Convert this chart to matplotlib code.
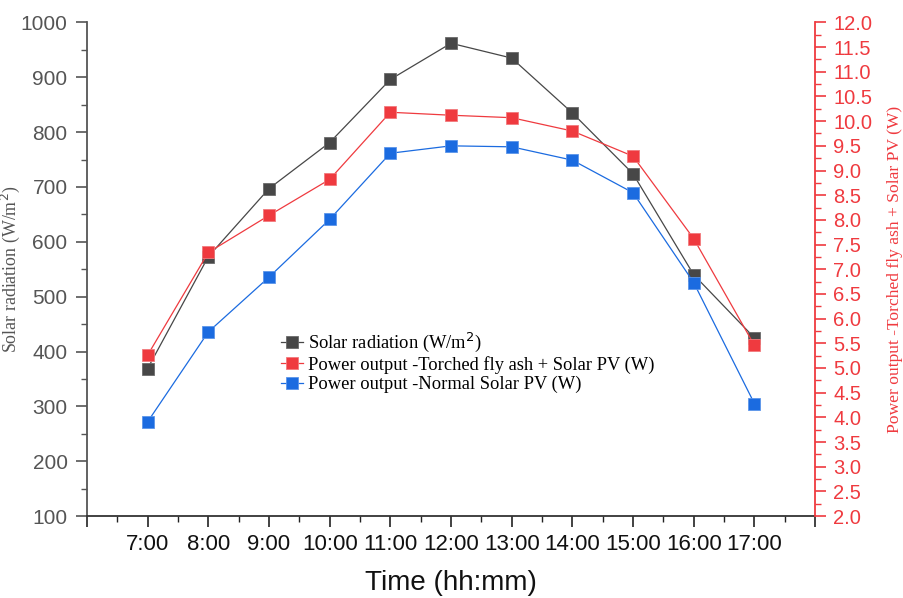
import numpy as np
import matplotlib
import matplotlib.pyplot as plt
from matplotlib import font_manager
from matplotlib.ticker import MultipleLocator

# Data
hours = [7, 8, 9, 10, 11, 12, 13, 14, 15, 16, 17]
hour_labels = ["7:00", "8:00", "9:00", "10:00", "11:00", "12:00",
               "13:00", "14:00", "15:00", "16:00", "17:00"]
solar_radiation = [369, 573, 697, 781, 896, 962, 935, 835, 724, 540, 425]
power_fly_ash = [5.26, 7.34, 8.09, 8.82, 10.18, 10.12, 10.07, 9.80, 9.29, 7.62, 5.46]
power_normal = [3.91, 5.73, 6.84, 8.01, 9.35, 9.50, 9.48, 9.21, 8.55, 6.73, 4.28]

# Colours
black_c = "#474747"
red_c = "#ef3a3f"
blue_c = "#1b6be0"
gray_txt = "#555555"

# Narrow sans for the time axis if available
names = {f.name for f in font_manager.fontManager.ttflist}
narrow = "Liberation Sans Narrow" if "Liberation Sans Narrow" in names else "Liberation Sans"

fig = plt.figure(figsize=(9.04, 5.98), dpi=100)
ax1 = fig.add_axes([0.0962, 0.137, 0.8054, 0.8255])
ax2 = ax1.twinx()

ax1.plot(hours, solar_radiation, color=black_c, lw=0.9, marker="s", ms=8.8,
         mfc=black_c, mec="#6a6a6a", mew=0.6, label="Solar radiation (W/m$^2$)")
ax2.plot(hours, power_fly_ash, color=red_c, lw=0.9, marker="s", ms=8.8,
         mfc=red_c, mec="#f27a7d", mew=0.6,
         label="Power output -Torched fly ash + Solar PV (W)")
ax2.plot(hours, power_normal, color=blue_c, lw=0.9, marker="s", ms=8.8,
         mfc=blue_c, mec="#5c95ea", mew=0.6,
         label="Power output -Normal Solar PV (W)")

# Axis ranges
ax1.set_xlim(6, 18)
ax1.set_ylim(100, 1000)
ax2.set_ylim(2, 12)

# X axis
ax1.xaxis.set_minor_locator(MultipleLocator(0.5))
ax1.set_xticks(range(6, 19))
ax1.set_xticklabels([""] + hour_labels + [""], fontfamily=narrow, fontsize=16)
ax1.tick_params(axis="x", which="major", length=8, width=1.2, color="#222222",
                pad=5, labelcolor="#111111")
ax1.tick_params(axis="x", which="minor", length=4.5, width=1.0, color="#222222")
ax1.set_xlabel("Time (hh:mm)", fontfamily=narrow, fontsize=20, labelpad=11,
               color="#111111")

# Left y axis
ax1.yaxis.set_major_locator(MultipleLocator(100))
ax1.yaxis.set_minor_locator(MultipleLocator(50))
ax1.tick_params(axis="y", which="major", length=8, width=1.2, color=gray_txt,
                labelsize=15, labelcolor=gray_txt, pad=6)
ax1.tick_params(axis="y", which="minor", length=4, width=1.0, color=gray_txt)
for lab in ax1.get_yticklabels():
    lab.set_fontfamily("Liberation Sans")
ax1.set_ylabel("Solar radiation (W/m$^2$)", fontfamily="Liberation Serif",
               fontsize=12.9, color=gray_txt)
ax1.yaxis.set_label_coords(-0.089, 0.50)

# Right y axis
ax2.yaxis.set_major_locator(MultipleLocator(0.5))
ax2.yaxis.set_minor_locator(MultipleLocator(0.25))
ax2.yaxis.set_major_formatter(matplotlib.ticker.FormatStrFormatter("%.1f"))
ax2.tick_params(axis="y", which="major", length=8, width=1.2, color=red_c,
                labelsize=14.5, labelcolor=red_c, pad=5)
ax2.tick_params(axis="y", which="minor", length=4, width=1.0, color=red_c)
for lab in ax2.get_yticklabels():
    lab.set_fontfamily("Liberation Sans")
ax2.set_ylabel("Power output -Torched fly ash + Solar PV (W)",
               fontfamily="Liberation Serif", fontsize=12.6, color=red_c)
ax2.yaxis.set_label_coords(1.099, 0.50)

# Spines
for ax in (ax1, ax2):
    ax.spines["top"].set_visible(False)
ax1.spines["left"].set_color(gray_txt)
ax1.spines["left"].set_linewidth(1.3)
ax1.spines["bottom"].set_color("#333333")
ax1.spines["bottom"].set_linewidth(1.3)
ax2.spines["right"].set_color(red_c)
ax2.spines["right"].set_linewidth(1.3)
ax2.spines["left"].set_visible(False)
ax2.spines["bottom"].set_visible(False)
ax1.spines["right"].set_visible(False)

# Legend
h1, l1 = ax1.get_legend_handles_labels()
h2, l2 = ax2.get_legend_handles_labels()
ax2.legend(h1 + h2, l1 + l2, loc="upper left", bbox_to_anchor=(0.256, 0.39),
           frameon=False, prop={"family": "Liberation Serif", "size": 13.3},
           handlelength=1.2, handletextpad=0.3, labelspacing=0.1,
           borderaxespad=0)

fig.savefig("out.png", dpi=100)
